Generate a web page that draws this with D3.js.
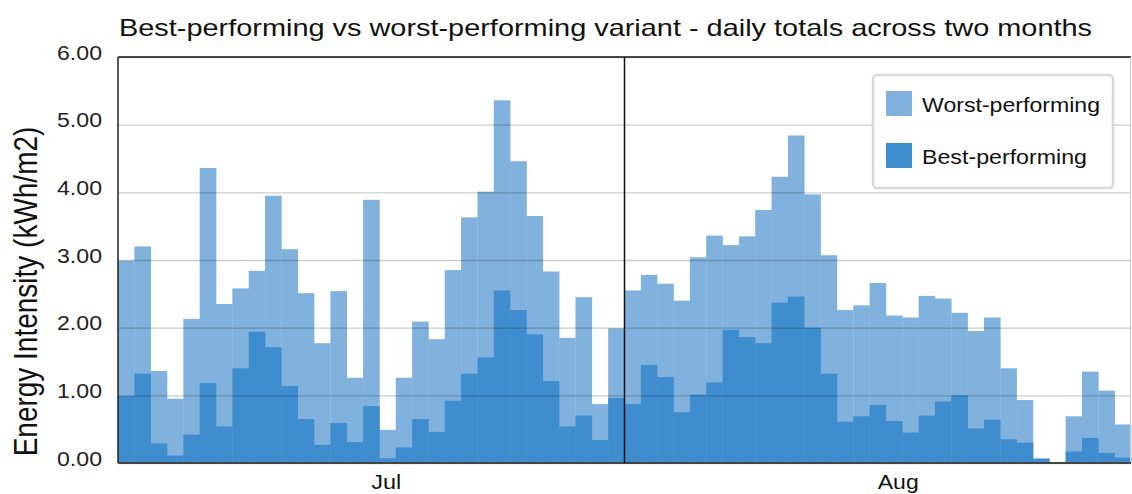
<!DOCTYPE html>
<html>
<head>
<meta charset="utf-8">
<script src="https://cdn.jsdelivr.net/npm/d3@7"></script>
<style>
  html, body { margin: 0; padding: 0; background: #fff; }
  svg { display: block; font-family: "Liberation Sans", Arial, Helvetica, sans-serif; }
</style>
</head>
<body>
<svg id="chart" width="1132" height="494"></svg>
<script>
// Daily energy intensity (kWh/m2), 1 Jul – 31 Aug
const worstPerforming = [
  2.99, 3.20, 1.36, 0.95, 2.13, 4.36, 2.35, 2.58, 2.84, 3.95, 3.16, 2.51, 1.77, 2.54, 1.26, 3.89,
  0.49, 1.26, 2.09, 1.83, 2.85, 3.63, 4.01, 5.36, 4.46, 3.65, 2.83, 1.85, 2.45, 0.87, 1.99,
  2.55, 2.78, 2.65, 2.40, 3.04, 3.36, 3.22, 3.35, 3.74, 4.23, 4.84, 3.97, 3.07, 2.26, 2.33, 2.66,
  2.18, 2.15, 2.47, 2.43, 2.22, 1.95, 2.15, 1.40, 0.93, 0.07, 0.00, 0.69, 1.35, 1.07, 0.57
];
const bestPerforming = [
  0.99, 1.32, 0.29, 0.11, 0.42, 1.18, 0.54, 1.40, 1.94, 1.71, 1.14, 0.65, 0.27, 0.59, 0.31, 0.84,
  0.07, 0.23, 0.65, 0.46, 0.92, 1.32, 1.56, 2.55, 2.26, 1.90, 1.21, 0.54, 0.70, 0.34, 0.96,
  0.87, 1.45, 1.27, 0.75, 1.01, 1.19, 1.97, 1.86, 1.77, 2.37, 2.46, 2.00, 1.32, 0.61, 0.69, 0.86,
  0.62, 0.45, 0.70, 0.91, 1.00, 0.51, 0.64, 0.35, 0.30, 0.06, 0.00, 0.17, 0.37, 0.15, 0.08
];
const yTicks = [0, 1, 2, 3, 4, 5, 6];
const monthLabels = ["Jul", "Aug"];
const seriesNames = ["Worst-performing", "Best-performing"];
const seriesColors = ["#80b2dd", "#3f8ccf"];

const startDay = new Date(2023, 6, 1);
const endDay = new Date(2023, 8, 1);
const days = d3.timeDay.range(startDay, endDay);
const months = d3.timeMonth.range(startDay, endDay);

const margin = { left: 118, right: 1, top: 57, bottom: 31 };
const W = 1132, H = 494;
const svg = d3.select("#chart");

const x = d3.scaleTime().domain([startDay, endDay]).range([margin.left, W - margin.right]);
const y = d3.scaleLinear().domain([0, 6]).range([H - margin.bottom, margin.top]);

// Text is set a little wide; stretch each string to its intended width
function widen(sel, width) {
  sel.attr("textLength", width).attr("lengthAdjust", "spacingAndGlyphs");
}

// Title
svg.append("text")
  .attr("x", 119).attr("y", 36)
  .attr("font-size", 24).attr("fill", "#111")
  .text("Best-performing vs worst-performing variant - daily totals across two months")
  .call(widen, 973);

// Bars: worst first, best overlaid, both from zero
const barGroups = [worstPerforming, bestPerforming];
barGroups.forEach((vals, s) => {
  svg.append("g").selectAll("rect")
    .data(days)
    .join("rect")
    .attr("x", d => x(d))
    .attr("width", d => x(d3.timeDay.offset(d, 1)) - x(d) + 0.3)
    .attr("y", (d, i) => y(vals[i]))
    .attr("height", (d, i) => y(0) - y(vals[i]))
    .attr("fill", seriesColors[s]);
});

// Horizontal gridlines, drawn over the bars
const yAxis = d3.axisLeft(y).tickValues(yTicks).tickFormat(d3.format(".2f"))
  .tickSize(-(W - margin.left - margin.right)).tickPadding(16);
const gy = svg.append("g").attr("transform", `translate(${margin.left},0)`).call(yAxis);
gy.select(".domain").remove();
gy.selectAll(".tick line").attr("stroke", "rgba(0,0,0,0.2)").attr("stroke-width", 1.4);
gy.selectAll(".tick text")
  .attr("font-size", 20).attr("fill", "#222")
  .attr("font-family", "Liberation Sans, Arial, sans-serif")
  .attr("dy", "2")
  .call(widen, 45);

// Frame
svg.append("line").attr("x1", margin.left).attr("x2", W - margin.right)
  .attr("y1", y(6)).attr("y2", y(6)).attr("stroke", "#111").attr("stroke-width", 1.5);
svg.append("line").attr("x1", margin.left).attr("x2", margin.left)
  .attr("y1", y(6)).attr("y2", y(0)).attr("stroke", "#222").attr("stroke-width", 1.5);
svg.append("line").attr("x1", W - 1.5).attr("x2", W - 1.5)
  .attr("y1", y(6)).attr("y2", y(0)).attr("stroke", "#ccc").attr("stroke-width", 1);
svg.append("line").attr("x1", margin.left).attr("x2", W - margin.right)
  .attr("y1", y(0)).attr("y2", y(0)).attr("stroke", "#444").attr("stroke-width", 2);

// Month separators
svg.append("g").selectAll("line")
  .data(months.slice(1))
  .join("line")
  .attr("x1", d => x(d)).attr("x2", d => x(d))
  .attr("y1", y(6)).attr("y2", y(0))
  .attr("stroke", "#111").attr("stroke-width", 1.5);

// Month labels, starting at mid-month
const monthWidths = [30, 41];
svg.append("g").selectAll("text")
  .data(months)
  .join("text")
  .attr("x", d => (x(d) + x(d3.timeMonth.offset(d, 1))) / 2)
  .attr("y", 489)
  .attr("font-size", 21).attr("fill", "#111")
  .text((d, i) => monthLabels[i])
  .attr("textLength", (d, i) => monthWidths[i])
  .attr("lengthAdjust", "spacingAndGlyphs");

// Y axis title
svg.append("text")
  .attr("transform", "translate(37,291.5) scale(1.2,1) rotate(-90)")
  .attr("text-anchor", "middle")
  .attr("font-size", 28).attr("fill", "#111")
  .text("Energy Intensity (kWh/m2)");

// Legend
const legendWidths = [178, 165];
const lg = svg.append("g").attr("transform", "translate(873,75)");
lg.append("rect").attr("width", 240).attr("height", 113).attr("rx", 4)
  .attr("fill", "rgba(255,255,255,0.85)").attr("stroke", "#d9d9d9").attr("stroke-width", 2.5);
seriesNames.forEach((name, i) => {
  lg.append("rect").attr("x", 13).attr("y", 16 + i * 52).attr("width", 26).attr("height", 25)
    .attr("fill", seriesColors[i]);
  lg.append("text").attr("x", 49).attr("y", 37 + i * 52)
    .attr("font-size", 21).attr("fill", "#111").text(name)
    .call(widen, legendWidths[i]);
});
</script>
</body>
</html>
